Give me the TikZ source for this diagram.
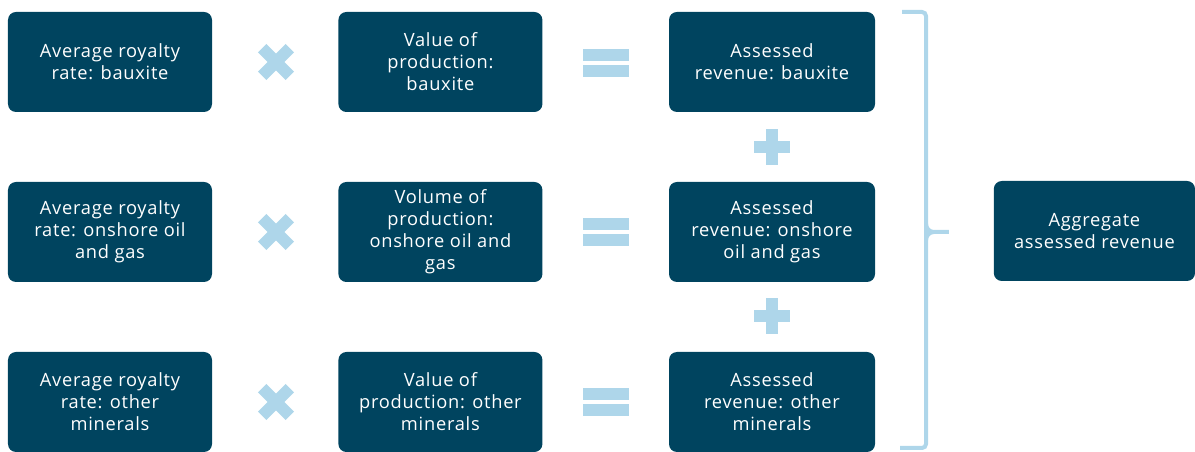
\documentclass[tikz,border=0pt]{standalone}
\usepackage{fontspec}
\setmainfont{Open Sans}[LetterSpace=4]
\usetikzlibrary{calc}
\definecolor{boxblue}{HTML}{00445F}
\definecolor{signblue}{HTML}{AED6EA}
\newcommand{\timessign}[2] % x in cm, y in cm
{
	\fill[signblue, rotate around={45:(#1,#2)}] (#1-0.49,#2-0.15) rectangle (#1+0.49,#2+0.15);
	\fill[signblue, rotate around={-45:(#1,#2)}] (#1-0.49,#2-0.15) rectangle (#1+0.49,#2+0.15);
}
\newcommand{\plussign}[2] % x in cm, y in cm
{
	\fill[signblue] (#1-0.45,#2-0.15) rectangle (#1+0.45,#2+0.15);
	\fill[signblue] (#1-0.15,#2-0.45) rectangle (#1+0.15,#2+0.45);
}
\newcommand{\equalsign}[2] % x in cm, y in cm
{
	\fill[signblue] (#1-0.575,#2+0.05) rectangle (#1+0.575,#2+0.35);
	\fill[signblue] (#1-0.575,#2-0.05) rectangle (#1+0.575,#2-0.35);
}
\tikzset{
	calcbox/.style={fill=boxblue, rounded corners=0.2cm, minimum width=5.1cm, minimum height=2.5cm, align=center, text=white, font=\fontsize{13}{15.6}\selectfont, inner sep=0pt}
}
\begin{document}
\begin{tikzpicture}
	% 1195 x 452 px, 1 px = 0.025 cm
	\useasboundingbox (0,0) rectangle (29.875,-11.3);
	% rates
	\node[calcbox] (ratebx) at (2.75,-1.55) {Average royalty\\rate: bauxite};
	\node[calcbox] (rateog) at (2.75,-5.8) {Average royalty\\rate: onshore oil\\and gas};
	\node[calcbox] (ratemin) at (2.75,-10.05) {Average royalty\\rate: other\\minerals};
	% production
	\node[calcbox] (prodbx) at (11.01,-1.55) {Value of\\production:\\bauxite};
	\node[calcbox] (prodog) at (11.01,-5.8) {Volume of\\production:\\onshore oil and\\gas};
	\node[calcbox] (prodmin) at (11.01,-10.05) {Value of\\production: other\\minerals};
	% revenue
	\node[calcbox, minimum width=5.15cm] (revbx) at (19.3,-1.55) {Assessed\\revenue: bauxite};
	\node[calcbox, minimum width=5.15cm] (revog) at (19.3,-5.8) {Assessed\\revenue: onshore\\oil and gas};
	\node[calcbox, minimum width=5.15cm] (revmin) at (19.3,-10.05) {Assessed\\revenue: other\\minerals};
	% total
	\node[calcbox, minimum width=5.03cm] (total) at (27.36,-5.775) {Aggregate\\assessed revenue};
	
	\timessign{6.9}{-1.55};
	\timessign{6.9}{-5.8};
	\timessign{6.9}{-10.05};
	
	\equalsign{15.15}{-1.575};
	\equalsign{15.15}{-5.8};
	\equalsign{15.15}{-10.05};
	
	\plussign{19.3}{-3.675};
	\plussign{19.3}{-7.9};
	
	% brace
	\draw[signblue, line width=0.1cm, rounded corners=0.1cm] (22.55,-0.3) -- (23.15,-0.3) -- (23.15,-11.2) -- (22.5,-11.2);
	\draw[signblue, line width=0.1cm] (23.15,-5.6) to[out=-90,in=180] (23.35,-5.8) -- (23.72,-5.8);
	\draw[signblue, line width=0.1cm] (23.15,-6.0) to[out=90,in=180] (23.35,-5.8);
\end{tikzpicture}
\end{document}
